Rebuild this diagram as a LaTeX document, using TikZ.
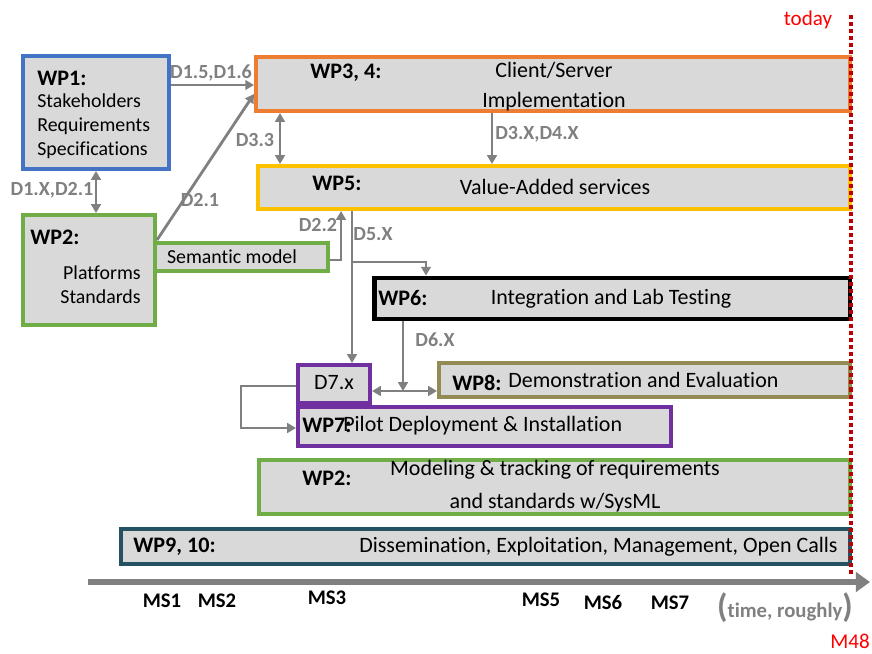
\documentclass[tikz,border=0pt]{standalone}
\usepackage{fontspec}
\setmainfont{Carlito}[Ligatures=NoCommon]
\usetikzlibrary{arrows.meta}
\definecolor{cbox}{RGB}{217,217,217}
\definecolor{cblue}{RGB}{68,114,196}
\definecolor{cgreen}{RGB}{112,173,71}
\definecolor{corange}{RGB}{237,125,49}
\definecolor{cyellow}{RGB}{255,192,0}
\definecolor{colive}{RGB}{148,138,84}
\definecolor{cpurple}{RGB}{112,48,160}
\definecolor{cteal}{RGB}{36,82,98}
\definecolor{carrow}{RGB}{128,128,128}
\definecolor{cdot}{RGB}{192,0,0}

\begin{document}
\begin{tikzpicture}[x=0.02cm,y=-0.02cm,>={Triangle[length=5pt,width=5.5pt]},
   font=\fontsize{12.5}{15}\selectfont,
   wp/.style={draw,line width=2.3pt,fill=cbox,inner sep=0pt},
   txt/.style={inner sep=0pt},
   small/.style={inner sep=0pt,font=\fontsize{11.3}{13.6}\selectfont},
   wpl/.style={inner sep=0pt,anchor=west,font=\fontsize{12.6}{15}\selectfont\bfseries},
   dl/.style={inner sep=0pt,text=carrow,font=\fontsize{11.4}{13.6}\selectfont\bfseries},
   ms/.style={inner sep=0pt,font=\fontsize{11.8}{14}\selectfont\bfseries},
   arr/.style={draw=carrow,line width=1.6pt}]
  \useasboundingbox (0,0) rectangle (872,653);
  % work packages (boxes)
  \node[wp,draw=cblue,minimum width=2.92cm,minimum height=2.26cm]    (wp1)  at (96,112.5)  {};
  \node[wp,draw=cgreen,minimum width=2.64cm,minimum height=2.2cm]    (wp2a) at (89,270)    {};
  \node[wp,draw=cgreen,minimum width=3.46cm,minimum height=0.56cm]   (sem)  at (241.5,257) {};
  \node[wp,draw=corange,minimum width=11.88cm,minimum height=1.08cm] (wp34) at (553,84)    {};
  \node[wp,draw=cyellow,minimum width=11.84cm,minimum height=0.86cm] (wp5)  at (554,187.5) {};
  \node[wp,draw=black,line width=2.8pt,minimum width=9.52cm,minimum height=0.82cm] (wp6) at (612,298.5) {};
  \node[wp,draw=colive,minimum width=8.22cm,minimum height=0.68cm]   (wp8)  at (644.5,380) {};
  \node[wp,draw=cpurple,minimum width=7.46cm,minimum height=0.78cm]  (wp7)  at (484.5,426.5) {};
  \node[wp,draw=cpurple,minimum width=1.44cm,minimum height=0.76cm]  (d7)   at (334,384)   {};
  \node[wp,draw=cgreen,minimum width=11.82cm,minimum height=1.08cm]  (wp2b) at (554.5,487) {};
  \node[wp,draw=cteal,minimum width=14.58cm,minimum height=0.7cm]    (wp9)  at (485.5,546.5) {};
  % texts in the boxes
  \node[wpl] (wp1l) at (37,78) {WP1:};
  \node[small,anchor=west,align=left] (wp1t) at (37,126) {Stakeholders\\Requirements\\Specifications};
  \node[wpl] (wp2al) at (30,237) {WP2:};
  \node[small,anchor=east,align=right] (wp2at) at (141,285) {Platforms\\Standards};
  \node[small] (semt) at (232,257) {Semantic model};
  \node[wpl] (wp34l) at (310,73) {WP3, 4:};
  \node[txt] (wp34a) at (554,70)  {Client/Server};
  \node[txt] (wp34b) at (554,102) {Implementation};
  \node[wpl] (wp5l) at (312,183) {WP5:};
  \node[txt] (wp5t) at (555,187) {Value-Added services};
  \node[wpl] (wp6l) at (378,298) {WP6:};
  \node[txt] (wp6t) at (611,299) {Integration and Lab Testing};
  \node[wpl] (wp8l) at (452,383) {WP8:};
  \node[txt,anchor=west] (wp8t) at (508,380) {Demonstration and Evaluation};
  \node[txt] (d7t) at (334,383) {D7.x};
  \node[wpl] (wp7l) at (302,425) {WP7:};
  \node[txt,anchor=west] (wp7t) at (343,426) {Pilot Deployment \& Installation};
  \node[wpl] (wp2bl) at (302,478) {WP2:};
  \node[txt] (wp2ba) at (555,470) {Modeling \& tracking of requirements};
  \node[txt] (wp2bb) at (555,503) {and standards w/SysML};
  \node[wpl] (wp9l) at (133,547) {WP9, 10:};
  \node[txt,anchor=east] (wp9t) at (838,547) {Dissemination, Exploitation, Management, Open Calls};
  % deliverable flows
  \coordinate (br) at (352,262);
  \coordinate (jn) at (403,391);
  \draw[arr,->] (wp1.east |- 0,85) -- (wp34.west |- 0,85);
  \draw[arr,->] (wp2a.east |- 0,240) -- (wp34.west |- 0,94);
  \draw[arr,<->] (wp1.south) -- (wp2a.north -| wp1.south);
  \draw[arr,<->] (wp34.south -| 280,0) -- (wp5.north -| 280,0);
  \draw[arr,->] (wp34.south -| 492,0) -- (wp5.north -| 492,0);
  \draw[arr,->] (sem.east |- 0,260) -| (wp5.south -| 341,0);
  \draw[arr,->] (wp5.south -| br) -- (d7.north -| br);
  \draw[arr,->] (br) -| (wp6.north -| 426,0);
  \draw[arr,->] (wp6.south -| jn) -- (jn);
  \draw[arr,<->] (d7.east |- jn) -- (wp8.west |- jn);
  \draw[arr,->] (d7.west |- 0,386) -- ++(-55,0) |- (wp7.west |- 0,428);
  \node[dl] (d15) at (211,73)  {D1.5,D1.6};
  \node[dl] (d21) at (200,200) {D2.1};
  \node[dl] (d1x) at (52,190)  {D1.X,D2.1};
  \node[dl] (d33) at (255,140) {D3.3};
  \node[dl] (d3x) at (537,134) {D3.X,D4.X};
  \node[dl] (d22) at (318,225) {D2.2};
  \node[dl] (d5x) at (373,234) {D5.X};
  \node[dl] (d6x) at (435,340) {D6.X};
  % time axis and milestones
  \coordinate (t0) at (88,582);
  \coordinate (t1) at (870,582);
  \draw[carrow,line width=3.4pt,-{Triangle[length=8pt,width=11pt]}] (t0) -- (t1);
  \node[ms] (ms1) at (162,601) {MS1};
  \node[ms] (ms2) at (217,601) {MS2};
  \node[ms] (ms3) at (327,598) {MS3};
  \node[ms] (ms5) at (541,600) {MS5};
  \node[ms] (ms6) at (603,602) {MS6};
  \node[ms] (ms7) at (670,603) {MS7};
  \node[txt,text=carrow,font=\fontsize{11.8}{14}\selectfont\bfseries] (tr) at (785,608)
    {{\fontsize{19}{20}\selectfont(}time, roughly{\fontsize{19}{20}\selectfont)}};
  % today marker
  \coordinate (dtop) at (851,15);
  \coordinate (dbot) at (851,577);
  \draw[cdot,line width=2.3pt,dash pattern=on 2.3pt off 1.7pt] (dtop) -- (dbot);
  \node[txt,text=red,font=\fontsize{12}{14}\selectfont] (today) at (808,20) {today};
  \node[txt,text=red,font=\fontsize{12}{14}\selectfont] (m48) at (850,641) {M48};
\end{tikzpicture}
\end{document}
